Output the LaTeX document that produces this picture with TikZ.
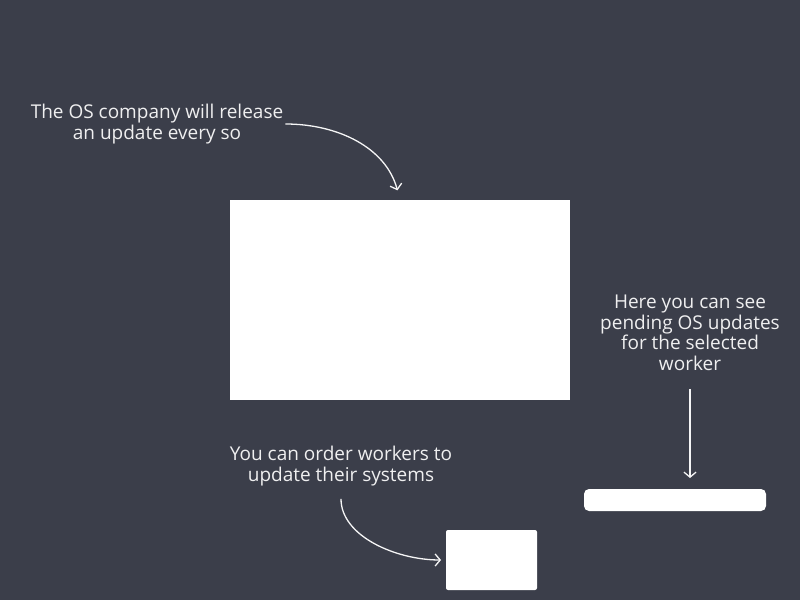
\documentclass[tikz,border=0pt]{standalone}
\usepackage{fontspec}
\setmainfont{Open Sans}
\usetikzlibrary{positioning, arrows.meta}
\definecolor{slate}{RGB}{59,62,74}

\begin{document}
\begin{tikzpicture}[%
    x=1pt, y=1pt,
    font=\fontsize{19}{20.5}\selectfont,
    >={Straight Barb[length=5pt, width=12pt]},
    % Styles
    note/.style={text=white!92!slate, align=center, inner sep=0pt},
    panel/.style={fill=white, draw=none, inner sep=0pt, outer sep=0pt},
    arrow/.style={->, draw=white!95!slate, line width=1.3pt}
]

% --- Background ---
\fill[slate] (0,0) rectangle (800,600);
\useasboundingbox (0,0) rectangle (800,600);

% --- Panels ---
\node[panel, minimum width=340pt, minimum height=200pt] (screen) at (400,300) {};
\node[panel, rounded corners=2pt, minimum width=91pt, minimum height=60pt] (order_btn) at (491.5,40) {};
\node[panel, rounded corners=5pt, minimum width=182pt, minimum height=22pt] (bar) at (675,100) {};

% --- Notes ---
\node[note] (note_os) at (157,476) {The OS company will release\\an update every so};
\node[note] (note_order) at (341,134) {You can order workers to\\update their systems};
\node[note] (note_pending) at (690,267) {Here you can see\\pending OS updates\\for the selected\\worker};

% Connections
\draw[arrow, shorten <=2pt, shorten >=10pt] (note_os.east) to[out=0, in=105] (screen.north);
\draw[arrow, shorten <=13pt, shorten >=5pt] (note_order.south) to[out=-90, in=180] (order_btn.west);
\draw[arrow, shorten <=18pt, shorten >=11pt] (note_pending.south) -- (note_pending.south |- bar.north);

\end{tikzpicture}
\end{document}
